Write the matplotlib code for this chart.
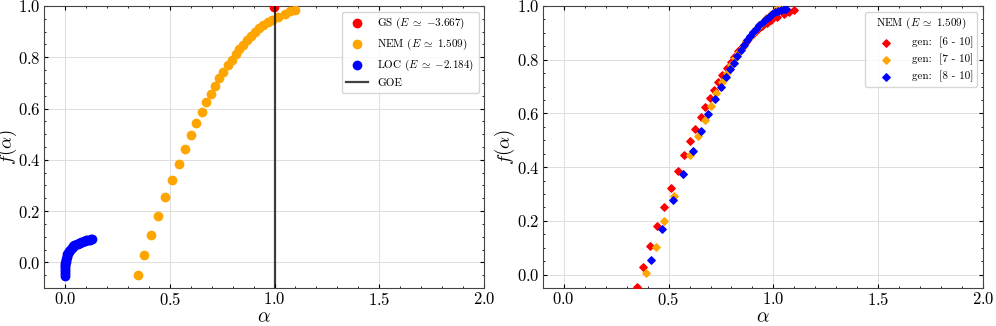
import matplotlib
matplotlib.use("Agg")
import matplotlib.pyplot as plt
from matplotlib.ticker import AutoMinorLocator

plt.rcParams['font.family'] = 'serif'
plt.rcParams['font.serif'] = ['cmr10', 'DejaVu Serif']
plt.rcParams['mathtext.fontset'] = 'cm'
plt.rcParams['axes.formatter.use_mathtext'] = True

# ground state point
gs_alpha = [0.997]
gs_f = [0.996]

# NEM spectrum (also gen [6 - 10] on the right)
nem_alpha = [0.347, 0.379, 0.412, 0.446, 0.478, 0.511, 0.543, 0.573, 0.602, 0.627,
             0.653, 0.675, 0.697, 0.718, 0.737, 0.756, 0.777, 0.796, 0.814, 0.830,
             0.849, 0.868, 0.889, 0.908, 0.928, 0.947, 0.968, 0.987, 1.018, 1.049,
             1.075, 1.100]
nem_f = [-0.048, 0.029, 0.105, 0.181, 0.253, 0.322, 0.385, 0.444, 0.496, 0.543,
         0.586, 0.624, 0.658, 0.689, 0.718, 0.742, 0.768, 0.790, 0.811, 0.831,
         0.849, 0.866, 0.883, 0.898, 0.914, 0.927, 0.937, 0.947, 0.958, 0.970,
         0.979, 0.986]

# localized spectrum (dense)
loc_alpha = [-0.002, -0.002, -0.001, -0.001, 0.000, 0.000, 0.001, 0.002, 0.003, 0.004,
             0.006, 0.008, 0.010, 0.012, 0.015, 0.018, 0.021, 0.024, 0.028, 0.032,
             0.036, 0.040, 0.045, 0.050, 0.055, 0.060, 0.065, 0.071, 0.077, 0.083,
             0.089, 0.095, 0.101, 0.107, 0.113, 0.119, 0.125, 0.130]
loc_f = [-0.052, -0.044, -0.037, -0.030, -0.023, -0.016, -0.009, -0.003, 0.003, 0.009,
         0.015, 0.021, 0.026, 0.031, 0.036, 0.041, 0.045, 0.049, 0.053, 0.057,
         0.060, 0.063, 0.066, 0.069, 0.071, 0.073, 0.075, 0.077, 0.079, 0.081,
         0.083, 0.084, 0.086, 0.087, 0.088, 0.089, 0.090, 0.091]

# gen [7 - 10]
g7_alpha = [0.394, 0.438, 0.480, 0.524, 0.567, 0.601, 0.639, 0.673, 0.703, 0.727,
            0.754, 0.778, 0.799, 0.818, 0.836, 0.853, 0.870, 0.886, 0.902, 0.918,
            0.934, 0.950, 0.966, 0.982, 0.998, 1.014, 1.030, 1.046]
g7_f = [0.005, 0.103, 0.201, 0.291, 0.373, 0.447, 0.516, 0.574, 0.626, 0.676,
        0.717, 0.750, 0.779, 0.805, 0.828, 0.849, 0.868, 0.885, 0.901, 0.915,
        0.929, 0.942, 0.954, 0.965, 0.975, 0.984, 0.993, 1.000]

# gen [8 - 10]
g8_alpha = [0.418, 0.470, 0.523, 0.571, 0.615, 0.655, 0.688, 0.720, 0.749, 0.773,
            0.792, 0.810, 0.826, 0.843, 0.858, 0.873, 0.888, 0.903, 0.918, 0.933,
            0.948, 0.963, 0.978, 0.993, 1.008, 1.023, 1.038, 1.052, 1.060]
g8_f = [0.056, 0.170, 0.277, 0.374, 0.460, 0.534, 0.598, 0.652, 0.697, 0.735,
        0.764, 0.789, 0.813, 0.836, 0.855, 0.872, 0.888, 0.903, 0.916, 0.929,
        0.940, 0.950, 0.960, 0.969, 0.976, 0.982, 0.986, 0.989, 0.990]

fig = plt.figure(figsize=(9.96, 3.26), dpi=100)
ax1 = fig.add_axes([0.0442, 0.1166, 0.4418, 0.865])
ax2 = fig.add_axes([0.545, 0.1166, 0.442, 0.865])

ax1.scatter(gs_alpha, gs_f, s=36, color='red', label=r'GS ($E\;\simeq\;{-3.667}$)', zorder=3)
ax1.scatter(nem_alpha, nem_f, s=36, color='orange', label=r'NEM ($E\;\simeq\;1.509$)', zorder=3)
ax1.scatter(loc_alpha, loc_f, s=36, color='blue', label=r'LOC ($E\;\simeq\;{-2.184}$)', zorder=3)
ax1.axvline(1.0, color='k', lw=1.6, alpha=0.75, label='GOE', zorder=4)
ax1.set_ylim(-0.1, 1.0)
ax1.legend(loc='upper right', fontsize=8, framealpha=0.8)

ax2.scatter(nem_alpha, nem_f, s=14, marker='D', color='red', label='gen:  [6 - 10]', zorder=3)
ax2.scatter(g7_alpha, g7_f, s=14, marker='D', color='orange', label='gen:  [7 - 10]', zorder=3)
ax2.scatter(g8_alpha, g8_f, s=14, marker='D', color='blue', label='gen:  [8 - 10]', zorder=3)
ax2.set_ylim(-0.05, 1.0)
ax2.legend(loc='upper right', fontsize=8, title=r'NEM ($E\;\simeq\;1.509$)',
           title_fontsize=8, framealpha=0.8, handlelength=3)

for ax in (ax1, ax2):
    ax.set_xlim(-0.1, 2.0)
    ax.set_xticks([0.0, 0.5, 1.0, 1.5, 2.0])
    ax.set_yticks([0.0, 0.2, 0.4, 0.6, 0.8, 1.0])
    ax.xaxis.set_minor_locator(AutoMinorLocator(5))
    ax.yaxis.set_minor_locator(AutoMinorLocator(4))
    ax.tick_params(which='both', direction='in', top=True, right=True, labelsize=12)
    ax.tick_params(which='major', length=3, pad=2.5)
    ax.tick_params(which='minor', length=1.5)
    ax.grid(True, color='#dddddd', lw=0.7)
    ax.set_axisbelow(True)
    ax.set_xlabel(r'$\alpha$', fontsize=14, labelpad=0)
    ax.set_ylabel(r'$f(\alpha)$', fontsize=13.5)
    ax.yaxis.set_label_coords(-0.058, 0.5)
    for sp in ax.spines.values():
        sp.set_color('#444444')

fig.savefig('out.png', dpi=100)
